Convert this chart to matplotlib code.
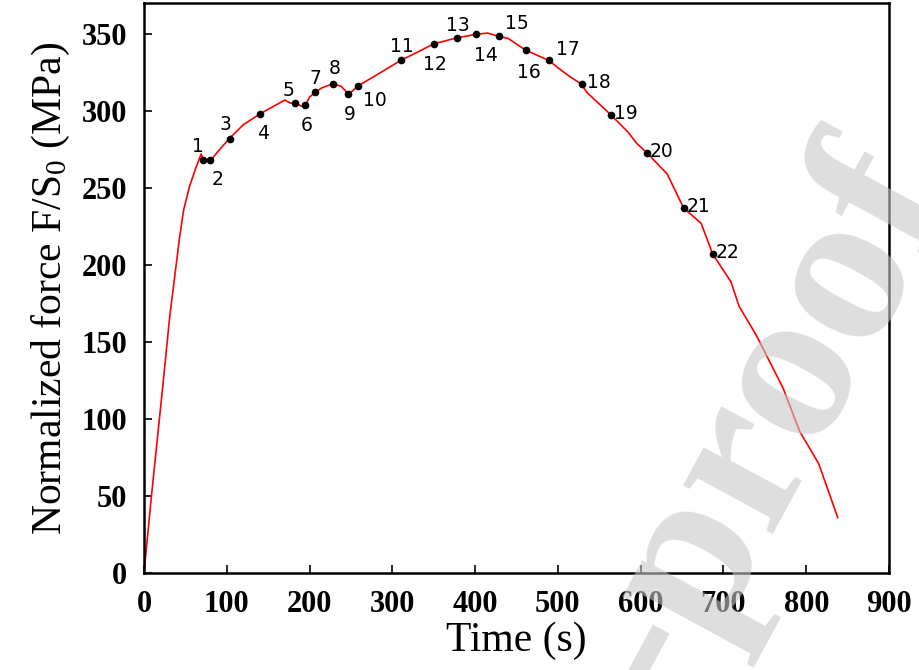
import matplotlib.pyplot as plt
import numpy as np

plt.rcParams['mathtext.fontset'] = 'custom'
plt.rcParams['mathtext.rm'] = 'Liberation Serif'
plt.rcParams['mathtext.it'] = 'Liberation Serif:italic'

# normalized force curve
time_s = [0, 9, 23, 31, 37, 43, 48, 55, 62, 69, 72, 79, 90, 103, 120, 140,
          160, 170, 177, 183, 190, 195, 200, 207, 215, 228, 238, 247, 252, 258,
          280, 310, 330, 350, 378, 400, 415, 429, 440, 461, 489, 500, 515, 528,
          535, 564, 585, 595, 608, 632, 652, 673, 687, 709, 719, 740, 772, 792,
          815, 838]
force = [0, 50, 123, 166, 192, 218, 236, 251, 262, 272, 268, 267, 274, 282,
         291, 298, 304, 307, 305, 305.4, 303, 303.7, 309, 312, 315, 317.5, 316,
         311, 313, 316, 323, 332.7, 338, 343.5, 347.4, 349.6, 350.5, 348.3,
         347, 339.4, 332.7, 328, 322, 317.5, 312, 297.4, 286, 279, 272.5, 259,
         236.8, 227, 207, 189, 173, 154, 120, 92, 71, 36]

# marked points 1..22
pt_time = [71, 79.5, 103.6, 139.8, 182.7, 194.8, 207, 227.7, 247, 258, 310.4,
           350, 378, 401.6, 429.3, 461, 489, 528.5, 564, 608, 651.8, 687]
pt_force = [268, 268, 281.8, 298, 305.4, 303.7, 312, 317.5, 311, 316, 332.7,
            343.5, 347.4, 349.6, 348.3, 339.4, 332.7, 317.5, 297.4, 272.5,
            236.8, 207]
pt_labels = [str(i) for i in range(1, 23)]

# label offsets (points) relative to each dot
offsets = [(-8, 10), (1, -14), (-7, 10), (-2, -14), (-9, 9), (-3, -15),
           (-4, 10), (-3, 11), (-3, -15), (4, -10), (-8, 10), (-8, -15),
           (-8, 9), (-2, -15), (4, 9), (-6, -16), (5, 8), (4, 1), (2, 1),
           (2, 1), (2, 1), (2, 1)]

fig = plt.figure(figsize=(9.19, 6.70), dpi=100)
ax = fig.add_axes([0.1567, 0.1448, 0.8107, 0.8507])

ax.plot(time_s, force, color='red', lw=1.2, zorder=2)
ax.plot(pt_time, pt_force, 'o', color='black', ms=4.5, zorder=3)
for x, y, lab, (dx, dy) in zip(pt_time, pt_force, pt_labels, offsets):
    ax.annotate(lab, (x, y), xytext=(dx, dy), textcoords='offset points',
                fontsize=13.5, family='DejaVu Sans', ha='left', va='center')

ax.set_xlim(0, 900)
ax.set_ylim(0, 370)
ax.set_xticks(np.arange(0, 901, 100))
ax.set_yticks(np.arange(0, 351, 50))
ax.tick_params(direction='in', length=6, width=1.2, pad=12)
for lab in ax.get_xticklabels() + ax.get_yticklabels():
    lab.set_fontfamily('Liberation Serif')
    lab.set_fontweight('bold')
    lab.set_fontsize(22)
for s in ax.spines.values():
    s.set_linewidth(1.8)

ax.set_xlabel('Time (s)', family='Liberation Serif', fontsize=30, labelpad=2)
ax.set_ylabel('Normalized force F/S$_0$ (MPa)', family='Liberation Serif',
              fontsize=30, labelpad=7)

# watermark
fig.text(765 / 919, 1 - 420 / 670, '-proof', family='Liberation Serif',
         weight='bold', fontsize=160, color='#c8c8c8', alpha=0.6,
         rotation=61.5, rotation_mode='anchor', ha='center', va='center',
         zorder=10)

fig.savefig('out.png', dpi=100)
